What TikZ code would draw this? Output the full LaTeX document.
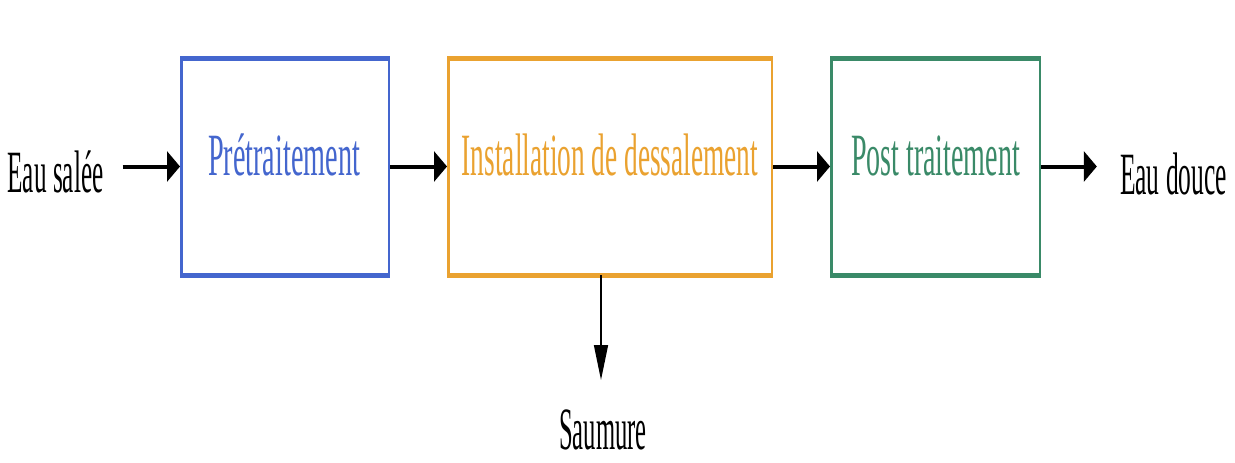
\documentclass[tikz,border=0pt]{standalone}
\usepackage{fontspec}
\usepackage{graphicx}
\setmainfont{Liberation Serif}
\usetikzlibrary{arrows.meta}
\definecolor{cblue}{RGB}{68,102,206}
\definecolor{corange}{RGB}{234,162,48}
\definecolor{cgreen}{RGB}{58,138,104}
\newcommand{\sq}[2]{\scalebox{#1}[1]{#2}}
\begin{document}
\begin{tikzpicture}[x=1pt,y=-1pt,
  boxnode/.style={draw, line width=2.5pt, fill=white, inner sep=0pt},
  rim/.style={line width=5pt},
  lbl/.style={anchor=base, inner sep=1pt, font=\fontsize{60}{70}\selectfont},
  flow/.style={line width=4pt, -{Triangle[length=13pt,width=30pt]}},
  brineflow/.style={line width=1.5pt, -{Triangle[length=35pt,width=14pt]}}]
\useasboundingbox[fill=white] (0,0) rectangle (1235,463);

% boxes
\node[boxnode, draw=cblue, minimum width=207.5pt, minimum height=214.5pt] (pre) at (285,166.5) {};
\node[boxnode, draw=corange, minimum width=323.5pt, minimum height=214.5pt] (ins) at (610,166.5) {};
\node[boxnode, draw=cgreen, minimum width=208.5pt, minimum height=214.5pt] (post) at (935.5,166.5) {};
\foreach \b/\c in {pre/cblue,ins/corange,post/cgreen}{
  \draw[rim, draw=\c] (\b.north west) -- (\b.north east);
  \draw[rim, draw=\c] (\b.south west) -- (\b.south east);
}

% labels
\node[lbl, text=cblue] (tpre) at (284,175) {\sq{0.47}{Prétraitement}};
\node[lbl, text=corange] (tins) at (610,175) {\sq{0.456}{Installation de dessalement}};
\node[lbl, text=cgreen] (tpost) at (935.5,175) {\sq{0.467}{Post traitement}};
\node[lbl, text=black] (in) at (55.5,192) {\sq{0.42}{Eau salée}};
\node[lbl, text=black] (out) at (1173.5,194) {\sq{0.425}{Eau douce}};
\node[lbl, text=black] (brine) at (603,449) {\sq{0.41}{Saumure}};
\coordinate (brinetip) at (601,380);

% connectors
\draw[flow, shorten <=18pt] (in.east |- pre.west) -- (pre.west);
\draw[flow] (pre.east) -- (ins.west);
\draw[flow] (ins.east) -- (post.west);
\draw[flow, shorten >=22pt] (post.east) -- (out.west |- post.east);
\draw[brineflow] (ins.south -| brinetip) -- (brinetip);
\end{tikzpicture}
\end{document}
